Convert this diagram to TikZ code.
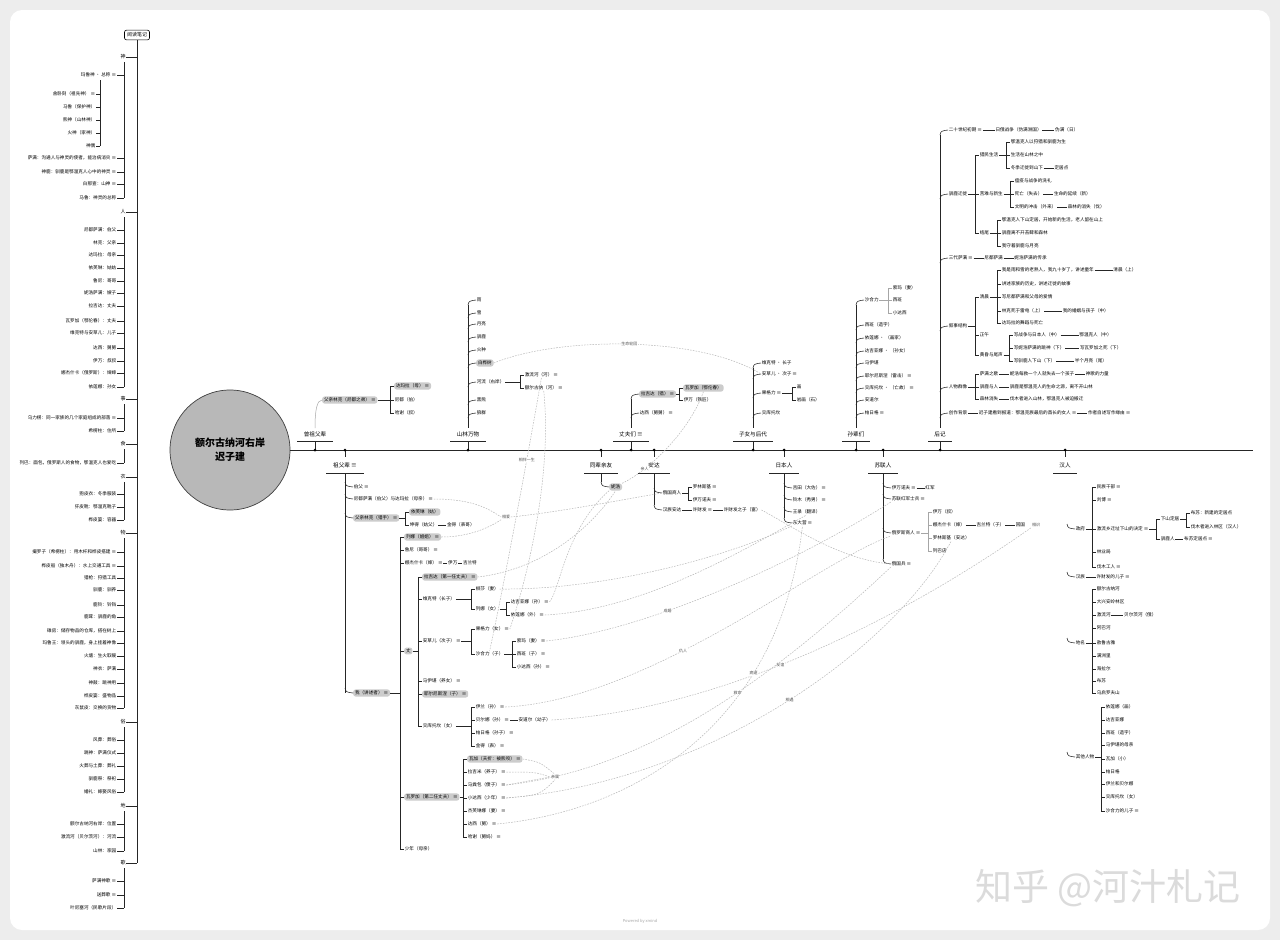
\documentclass[tikz,border=0pt]{standalone}
\usepackage{fontspec}
\setmainfont{Noto Sans CJK SC}
\tikzset{
 ln/.style={draw=black!85, line width=0.55pt},
 lng/.style={draw=black!35, line width=0.5pt},
 itm/.style={font=\fontsize{4.6}{5}\selectfont, inner sep=0.6pt, anchor=west},
 hl/.style={fill=black!20, rounded corners=2.5pt, inner xsep=1.8pt, inner ysep=1.4pt},
 topic/.style={font=\fontsize{5.6}{6}\selectfont, inner sep=0.8pt},
 rel/.style={draw=black!28, line width=0.5pt, dash pattern=on 1.6pt off 1.2pt},
 rlab/.style={font=\fontsize{4}{4}\selectfont, text=black!70, fill=white, inner sep=0.6pt},
 sbox/.style={draw=black, rounded corners=2pt, line width=0.6pt, font=\fontsize{5}{6}\selectfont, inner xsep=2.5pt, inner ysep=2.5pt},
}
\newcommand\xK[4]{\node[itm] (#1) at ({#2+4},#3) {#4}; \draw[ln] (#2,#3) -- (#1.west);}
\newcommand\xKH[4]{\node[itm,hl] (#1) at ({#2+4},#3) {#4}; \draw[ln] (#2,#3) -- (#1.west);}
\newcommand\xU[4]{\node[itm] (#1) at ({#2+8},#3) {#4}; \draw[ln] (#2,{#3+5}) .. controls ({#2+1},{#3+1}) .. (#1.west);}
\newcommand\xUH[4]{\node[itm,hl] (#1) at ({#2+8},#3) {#4}; \draw[ln] (#2,{#3+5}) .. controls ({#2+1},{#3+1}) .. (#1.west);}
\newcommand\xD[4]{\node[itm] (#1) at ({#2+8},#3) {#4}; \draw[ln] (#2,{#3-5}) .. controls ({#2+1},{#3-1}) .. (#1.west);}
\newcommand\xDH[4]{\node[itm,hl] (#1) at ({#2+8},#3) {#4}; \draw[ln] (#2,{#3-5}) .. controls ({#2+1},{#3-1}) .. (#1.west);}
\newcommand\xB[3]{\draw[ln] (#1,#2) -- (#1,#3);}
\newcommand\xP[3]{\draw[ln] (#1.east) -- (#2,#3);}
\newcommand\xT[4]{\node[itm] (#1) at ([xshift=#3pt]#2.east) {#4}; \draw[ln] (#2.east) -- (#1.west);}
\newcommand\xL[2]{\node[itm,anchor=east] (L#1) at (117,#1) {#2}; \draw[ln] (L#1.east) -- (124,#1);}
\newcommand\xLs[2]{\node[itm,anchor=east] (Ls#1) at (96,#1) {#2}; \draw[ln] (Ls#1.east) -- (100,#1);}
\newcommand\xSec[4]{\node[itm,anchor=center,font=\fontsize{5}{5}\selectfont] (#1) at (123,#2) {#3}; \draw[ln] (#1.east) -- (137,#2); \draw[ln] (124,{#2+5}) -- (124,#4);}
\newcommand\xTA[4]{\node[topic] (#1) at (#2,434) {#3}; \draw[ln] ({#2-#4},441) -- ({#2+#4},441); \draw[ln] (#2,441) -- (#2,450); \fill[black] (#2,450) circle (1.5pt);}
\newcommand\xTB[4]{\node[topic] (#1) at (#2,465) {#3}; \draw[ln] ({#2-#4},473) -- ({#2+#4},473); \draw[ln] (#2,450) -- (#2,457); \fill[black] (#2,450) circle (1.5pt);}
\begin{document}
\begin{tikzpicture}[x=1pt,y=-1pt]
\useasboundingbox (0,0) rectangle (1280,940);
\fill[black!7] (0,0) rectangle (1280,940);
\fill[white, rounded corners=12pt] (10,10) rectangle (1270,930);

% ---------------- left column ----------------
\node[sbox] (rb) at (137,35) {阅读笔记};
\draw[ln] (rb.south) -- (137,863);
\xSec{sec1}{57}{神}{198}
\xL{75}{玛鲁神 · 总称 ≡}
\draw[ln] (100,80) -- (100,146);
\xLs{94}{舍卧刻（祖先神） ≡}
\xLs{107}{马鲁（保护神）}
\xLs{120}{熊神（山林神）}
\xLs{133}{火神（家神）}
\xLs{146}{神偶}
\xL{158}{萨满：沟通人与神灵的使者，能治病消灾 ≡}
\xL{172}{神鹿：驯鹿是鄂温克人心中的神灵 ≡}
\xL{184}{白那查：山神 ≡}
\xL{198}{马鲁：神灵的总称}
\xSec{sec2}{212}{人}{387}
\xL{230}{尼都萨满：伯父}
\xL{243}{林克：父亲}
\xL{255}{达玛拉：母亲}
\xL{268}{依芙琳：姑姑}
\xL{281}{鲁尼：哥哥}
\xL{293}{妮浩萨满：嫂子}
\xL{306}{拉吉达：丈夫}
\xL{321}{瓦罗加（鄂伦春）：丈夫}
\xL{333}{维克特与安草儿：儿子}
\xL{348}{达西：舅舅}
\xL{361}{伊万：叔叔}
\xL{373}{娜杰什卡（俄罗斯）：婶婶}
\xL{387}{依莲娜：孙女}
\xSec{sec3}{399}{事}{431}
\xL{418}{乌力楞：同一家族的几个家庭组成的部落 ≡}
\xL{431}{希楞柱：住所}
\xSec{sec4}{444}{食}{463}
\xL{463}{列巴：面包，俄罗斯人的食物，鄂温克人也爱吃}
\xSec{sec5}{477}{衣}{520}
\xL{494}{狍皮衣：冬季服装}
\xL{507}{犴皮靴：鄂温克靴子}
\xL{520}{桦皮篓：容器}
\xSec{sec6}{533}{物}{708}
\xL{552}{撮罗子（希楞柱）：用木杆和桦皮搭建 ≡}
\xL{566}{桦皮船（独木舟）：水上交通工具 ≡}
\xL{578}{猎枪：狩猎工具}
\xL{590}{驯鹿：驯养}
\xL{605}{鹿铃：铃铛}
\xL{617}{鹿茸：驯鹿的角}
\xL{631}{碓房：储存物品的仓库，搭在树上}
\xL{643}{玛鲁王：领头的驯鹿，身上挂着神像}
\xL{656}{火塘：生火取暖}
\xL{669}{神衣：萨满}
\xL{683}{神鼓：跳神用}
\xL{696}{桦皮篓：盛物品}
\xL{708}{灰鼠皮：交换的货物}
\xSec{sec7}{722}{俗}{792}
\xL{740}{风葬：葬俗}
\xL{753}{跳神：萨满仪式}
\xL{766}{火葬与土葬：葬礼}
\xL{779}{驯鹿祭：祭祀}
\xL{792}{婚礼：嫁娶风俗}
\xSec{sec8}{806}{地}{851}
\xL{824}{额尔古纳河右岸：位置}
\xL{837}{激流河（贝尔茨河）：河流}
\xL{851}{山林：家园}
\xSec{sec9}{863}{歌}{908}
\xL{881}{萨满神歌 ≡}
\xL{895}{送葬歌 ≡}
\xL{908}{叶尼塞河（民歌片段）}

% ---------------- centre ----------------
\node[circle, draw=black!75, line width=0.7pt, fill=black!28, minimum size=120pt, inner sep=0pt, align=center, font=\fontsize{10}{14}\selectfont\bfseries] (c) at (230,450) {额尔古纳河右岸\\迟子建};
\draw[ln, line width=0.9pt] (c.east) -- (1253,450);

% 315
\xTA{t1}{315}{曾祖父辈}{18}
\node[itm,hl] (a1) at (322,400) {父亲林克（尼都之弟） ≡};
\draw[lng] (315,428) .. controls (315,410) and (317,400) .. (a1.west);
\xP{a1}{390}{400} \xB{390}{386}{413}
\xKH{a1a}{390}{386}{达玛拉（母） ≡}
\xK{a1b}{390}{400}{尼都（伯）}
\xK{a1c}{390}{413}{哈谢（叔）}

% 345
\xTB{t2}{345}{祖父辈 ≡}{19}
\draw[ln] (345,473) -- (345,693);
\xD{b1}{345}{487}{伯父 ≡}
\xD{b2}{345}{499}{尼都萨满（伯父）与达玛拉（母亲） ≡}
\xDH{b3}{345}{518}{父亲林克（猎手） ≡}
\xP{b3}{405}{518} \xB{405}{512}{525}
\xKH{b3a}{405}{512}{依芙琳（姑）}
\xK{b3b}{405}{525}{坤得（姑父）}
\xT{b3c}{b3b}{8}{金得（表哥）}
\xDH{b4}{345}{693}{我（讲述者） ≡}
\xP{b4}{400}{693} \xB{400}{537}{849}
\xKH{c1}{400}{537}{列娜（姐姐） ≡}
\xK{c2}{400}{550}{鲁尼（哥哥） ≡}
\xK{c3}{400}{563}{娜杰什卡（婶） ≡}
\xT{c3a}{c3}{4}{伊万}
\xT{c3b}{c3a}{4}{吉兰特}
\xKH{c4}{400}{651}{丈}
\xP{c4}{418}{651} \xB{418}{577}{726}
\xKH{d1}{418}{577}{拉吉达（第一任丈夫） ≡}
\xK{d2}{418}{599}{维克特（长子）}
\xP{d2}{471}{599} \xB{471}{589}{609}
\xK{d2a}{471}{589}{柳莎（妻）}
\xK{d2b}{471}{609}{列娜（女）}
\xP{d2b}{506}{609} \xB{506}{602}{615}
\xK{d2c}{506}{602}{达吉亚娜（孙） ≡}
\xK{d2d}{506}{615}{依莲娜（外） ≡}
\xK{d3}{418}{641}{安草儿（次子） ≡}
\xP{d3}{471}{641} \xB{471}{629}{654}
\xK{d3a}{471}{629}{果格力（女） ≡}
\xK{d3b}{471}{654}{沙合力（子）}
\xP{d3b}{512}{654} \xB{512}{641}{667}
\xK{d3c}{512}{641}{索玛（妻） ≡}
\xK{d3d}{512}{654}{西班（子） ≡}
\xK{d3e}{512}{667}{小达西（孙） ≡}
\xK{d4}{418}{681}{马伊堪（养女） ≡}
\xKH{d5}{418}{694}{耶尔尼斯涅（子） ≡}
\xK{d6}{418}{726}{交库托坎（女）}
\xP{d6}{471}{726} \xB{471}{707}{746}
\xK{d6a}{471}{707}{伊兰（孙） ≡}
\xK{d6b}{471}{720}{贝尔娜（孙） ≡}
\xT{d6c}{d6b}{8}{安道尔（幼子）}
\xK{d6d}{471}{733}{帕日格（孙子） ≡}
\xK{d6e}{471}{746}{金得（表） ≡}
\xKH{c5}{400}{797}{瓦罗加（第二任丈夫） ≡}
\xP{c5}{463}{797} \xB{463}{759}{837}
\xKH{e1}{463}{759}{瓦加（夭折：被熊咬） ≡}
\xK{e2}{463}{772}{拉吉米（养子） ≡}
\xK{e3}{463}{785}{马粪包（傻子） ≡}
\xK{e4}{463}{798}{小达西（少年） ≡}
\xK{e5}{463}{811}{杰芙琳娜（妻） ≡}
\xK{e6}{463}{824}{达西（舅） ≡}
\xK{e7}{463}{837}{哈谢（舅妈） ≡}
\xK{c6}{400}{849}{少年（母亲）}

% 468
\xTA{t3}{468}{山林万物}{18}
\draw[ln] (468,305) -- (468,428);
\xU{f1}{468}{300}{雨}
\xU{f2}{468}{313}{雪}
\xU{f3}{468}{324}{月亮}
\xU{f4}{468}{337}{驯鹿}
\xU{f5}{468}{350}{火种}
\xUH{f6}{468}{363}{白桦树}
\xU{f7}{468}{382}{河流（右岸）}
\xP{f7}{520}{382} \xB{520}{375}{388}
\xK{f7a}{520}{375}{激流河（河） ≡}
\xK{f7b}{520}{388}{额尔古纳（河） ≡}
\xU{f8}{468}{400}{黑熊}
\xU{f9}{468}{413}{狼群}

% 601
\xTB{t4}{601}{同辈亲友}{17}
\draw[ln] (601,473) -- (601,482);
\xDH{g1}{601}{487}{妮浩}

% 631
\xTA{t5}{631}{丈夫们 ≡}{18}
\draw[ln] (631,399) -- (631,428);
\xUH{h1}{631}{394}{拉吉达（猎） ≡}
\xP{h1}{679}{394} \xB{679}{388}{400}
\xKH{h1a}{679}{388}{瓦罗加（鄂伦春）}
\xK{h1b}{679}{400}{伊万（铁匠）}
\xU{h2}{631}{413}{达西（舅舅） ≡}

% 654
\xTB{t6}{654}{安达}{16}
\draw[ln] (654,473) -- (654,505);
\xD{i1}{654}{493}{俄国商人}
\xP{i1}{688}{493} \xB{688}{487}{500}
\xK{i1a}{688}{487}{罗林斯基 ≡}
\xK{i1b}{688}{500}{伊万诺夫 ≡}
\xD{i2}{654}{510}{汉族安达}
\xT{i2a}{i2}{10}{许财发 ≡}
\xT{i2b}{i2a}{10}{许财发之子（富）}

% 753
\xTA{t7}{753}{子女与后代}{20}
\draw[ln] (753,368) -- (753,428);
\xU{j1}{753}{363}{维克特 · 长子}
\xU{j2}{753}{374}{安草儿 · 次子 ≡}
\xU{j3}{753}{393}{果格力 ≡}
\xP{j3}{792}{393} \xB{792}{387}{400}
\xK{j3a}{792}{387}{画}
\xK{j3b}{792}{400}{岩画（石）}
\xU{j4}{753}{413}{交库托坎}

% 784
\xTB{t8}{784}{日本人}{15}
\draw[ln] (784,473) -- (784,518);
\xD{k1}{784}{488}{吉田（大佐） ≡}
\xD{k2}{784}{500}{铃木（秀男） ≡}
\xD{k3}{784}{512}{王录（翻译）}
\xD{k4}{784}{523}{东大营 ≡}

% 856
\xTA{t9}{856}{孙辈们}{14}
\draw[ln] (856,305) -- (856,428);
\xU{m1}{856}{300}{沙合力}
\draw[lng] (m1.east) -- (888,300);
\draw[lng] (888,288) -- (888,313);
\node[itm] (m1a) at (892,288) {索玛（妻）}; \draw[lng] (888,288) -- (m1a.west);
\node[itm] (m1b) at (892,300) {西班}; \draw[lng] (888,300) -- (m1b.west);
\node[itm] (m1c) at (892,313) {小达西}; \draw[lng] (888,313) -- (m1c.west);
\xU{m2}{856}{325}{西班（造字）}
\xU{m3}{856}{338}{依莲娜 · （画家）}
\xU{m4}{856}{351}{达吉亚娜 · （孙女）}
\xU{m5}{856}{363}{马伊堪}
\xU{m6}{856}{376}{耶尔尼斯涅（雷击） ≡}
\xU{m7}{856}{388}{交库托坎 · （亡故） ≡}
\xU{m8}{856}{400}{安道尔}
\xU{m9}{856}{413}{帕日格 ≡}

% 883
\xTB{t10}{883}{苏联人}{15}
\draw[ln] (883,473) -- (883,559);
\xD{n1}{883}{488}{伊万诺夫 ≡}
\xT{n1a}{n1}{8}{红军}
\xD{n2}{883}{499}{苏联红军士兵 ≡}
\xD{n3}{883}{533}{俄罗斯商人 ≡}
\draw[lng] (n3.east) -- (928,533);
\draw[lng] (928,512) -- (928,551);
\node[itm] (n3a) at (932,512) {伊万（叔）}; \draw[lng] (928,512) -- (n3a.west);
\node[itm] (n3b) at (932,525) {娜杰什卡（婶）}; \draw[lng] (928,525) -- (n3b.west);
\xT{n3c}{n3b}{10}{吉兰特（子）}
\xT{n3d}{n3c}{10}{回国}
\node[itm] (n3e) at (932,538) {罗林斯基（安达）}; \draw[lng] (928,538) -- (n3e.west);
\node[itm] (n3f) at (932,551) {列巴店}; \draw[lng] (928,551) -- (n3f.west);
\xD{n4}{883}{564}{俄国兵 ≡}

% 940
\xTA{t11}{940}{后记}{12}
\draw[ln] (940,135) -- (940,428);
\xU{p1}{940}{130}{二十世纪初期 ≡}
\xT{p1a}{p1}{12}{日俄战争（伪满洲国）}
\xT{p1b}{p1a}{12}{伪满（日）}
\xU{p2}{940}{194}{驯鹿迁徙}
\xP{p2}{975}{194} \xB{975}{155}{233}
\xK{q1}{975}{155}{猎民生活}
\xP{q1}{1006}{155} \xB{1006}{142}{168}
\xK{q1a}{1006}{142}{鄂温克人以狩猎和驯鹿为生}
\xK{q1b}{1006}{155}{生活在山林之中}
\xK{q1c}{1006}{168}{冬季迁徙到山下}
\xT{q1d}{q1c}{10}{定居点}
\xK{q2}{975}{194}{苦难与新生}
\xP{q2}{1010}{194} \xB{1010}{181}{207}
\xK{q2a}{1010}{181}{瘟疫与战争的洗礼}
\xK{q2b}{1010}{194}{死亡（失去）}
\xT{q2c}{q2b}{10}{生命的延续（新）}
\xK{q2d}{1010}{207}{文明的冲击（外来）}
\xT{q2e}{q2d}{10}{森林的消失（伐）}
\xK{q3}{975}{233}{结尾}
\xP{q3}{997}{233} \xB{997}{220}{246}
\xK{q3a}{997}{220}{鄂温克人下山定居，开始新的生活，老人留在山上}
\xK{q3b}{997}{233}{驯鹿离不开苔藓和森林}
\xK{q3c}{997}{246}{我守着驯鹿与月亮}
\xU{p3}{940}{258}{三代萨满 ≡}
\xT{p3a}{p3}{10}{尼都萨满}
\xT{p3b}{p3a}{10}{妮浩萨满的传承}
\xU{p4}{940}{326}{叙事结构}
\xP{p4}{975}{326} \xB{975}{297}{355}
\xK{r1}{975}{297}{清晨}
\xP{r1}{997}{297} \xB{997}{270}{323}
\xK{r1a}{997}{270}{我是雨和雪的老熟人，我九十岁了，讲述童年}
\xT{r1b}{r1a}{18}{清晨（上）}
\xK{r1c}{997}{284}{讲述家族的历史，讲述迁徙的故事}
\xK{r1d}{997}{297}{写尼都萨满和父母的爱情}
\xK{r1e}{997}{311}{林克死于雷电（上）}
\xT{r1f}{r1e}{18}{我的婚姻与孩子（中）}
\xK{r1g}{997}{323}{达玛拉的舞蹈与死亡}
\xK{r2}{975}{335}{正午}
\xK{r3}{975}{355}{黄昏与尾声}
\xP{r3}{1009}{355} \xB{1009}{335}{361}
\xK{r3a}{1009}{335}{写战争与日本人（中）}
\xT{r3b}{r3a}{18}{鄂温克人（中）}
\xK{r3c}{1009}{348}{写妮浩萨满的跳神（下）}
\xT{r3d}{r3c}{14}{写瓦罗加之死（下）}
\xK{r3e}{1009}{361}{写驯鹿人下山（下）}
\xT{r3f}{r3e}{18}{半个月亮（尾）}
\xU{p5}{940}{387}{人物群像}
\xP{p5}{975}{387} \xB{975}{374}{399}
\xK{w1}{975}{374}{萨满之歌}
\xT{w1a}{w1}{10}{妮浩每救一个人就失去一个孩子}
\xT{w1b}{w1a}{10}{神歌的力量}
\xK{w2}{975}{387}{驯鹿与人}
\xT{w2a}{w2}{10}{驯鹿是鄂温克人的生命之源，离不开山林}
\xK{w3}{975}{399}{森林消失}
\xT{w3a}{w3}{10}{伐木者进入山林，鄂温克人被迫搬迁}
\xU{p6}{940}{413}{创作背景}
\xT{p6a}{p6}{10}{迟子建看到报道：鄂温克族最后的酋长的女人 ≡}
\xT{p6b}{p6a}{10}{作者自述写作缘由 ≡}

% 1065
\xTB{t12}{1065}{汉人}{12}
\xD{u1}{1067}{529}{政府}
\xP{u1}{1092}{529} \xB{1092}{487}{567}
\xK{u1a}{1092}{487}{民族干部 ≡}
\xK{u1b}{1092}{500}{刘博 ≡}
\xK{u1c}{1092}{529}{激流乡迁址下山的决定 ≡}
\xP{u1c}{1156}{529} \xB{1156}{519}{539}
\xK{u1d}{1156}{519}{下山定居}
\xP{u1d}{1186}{519} \xB{1186}{513}{527}
\xK{u1e}{1186}{513}{布苏：新建的定居点}
\xK{u1f}{1186}{527}{伐木者进入林区（汉人）}
\xK{u1g}{1156}{539}{驯鹿人}
\xT{u1h}{u1g}{8}{布苏定居点 ≡}
\xK{u1i}{1092}{552}{林业局}
\xK{u1j}{1092}{567}{伐木工人 ≡}
\xD{u2}{1067}{577}{汉族}
\xT{u2a}{u2}{10}{许财发的儿子 ≡}
\xD{u3}{1067}{643}{地名}
\xP{u3}{1092}{643} \xB{1092}{589}{693}
\xK{v1}{1092}{589}{额尔古纳河}
\xK{v2}{1092}{602}{大兴安岭林区}
\xK{v3}{1092}{615}{激流河}
\xT{v3a}{v3}{12}{贝尔茨河（俄）}
\xK{v4}{1092}{628}{阿巴河}
\xK{v5}{1092}{643}{敖鲁古雅}
\xK{v6}{1092}{656}{满洲里}
\xK{v7}{1092}{669}{海拉尔}
\xK{v8}{1092}{681}{布苏}
\xK{v9}{1092}{693}{乌启罗夫山}
\xD{u4}{1067}{757}{其他人物}
\xP{u4}{1101}{757} \xB{1101}{707}{811}
\xK{x1}{1101}{707}{依莲娜（画）}
\xK{x2}{1101}{720}{达吉亚娜}
\xK{x3}{1101}{733}{西班（造字）}
\xK{x4}{1101}{745}{马伊堪的母亲}
\xK{x5}{1101}{759}{瓦加（小）}
\xK{x6}{1101}{772}{帕日格}
\xK{x7}{1101}{784}{伊兰和贝尔娜}
\xK{x8}{1101}{797}{交库托坎（女）}
\xK{x9}{1101}{811}{沙合力的儿子 ≡}

% ---------------- relation curves ----------------
\node[rlab] (rl1) at (506,517) {相爱};
\node[rlab] (rl2) at (555,777) {亲属};
\node[rlab] (rl3) at (1036,525) {相识};
\draw[rel] (f6.east) .. controls (560,336) and (700,336) .. node[rlab,pos=.5] {生命轮回} (j2.west);
\draw[rel] (f7a.south) .. controls (527,460) and (505,580) .. node[rlab,pos=.3] {相伴一生} (d3b.north);
\draw[rel] (f7b.south) .. controls (552,470) and (530,570) .. (d3a.east);
\draw[rel] (h1a.south) .. controls (690,430) and (650,470) .. node[rlab,pos=.75] {亲人} (g1.north east);
\draw[rel] (g1.south west) .. controls (565,530) and (560,590) .. (d2c.east);
\draw[rel] (b2.east) .. controls (475,499) and (490,510) .. (rl1.west);
\draw[rel] (c1.east) .. controls (470,537) and (490,527) .. (rl1.south west);
\draw[rel] (rl1.east) .. controls (560,512) and (620,500) .. (i1.west);
\draw[rel] (d1.east) .. controls (540,570) and (590,530) .. (g1.south);
\draw[rel] (d2a.east) .. controls (600,590) and (720,560) .. (k4.south west);
\draw[rel] (d3c.east) .. controls (650,630) and (800,560) .. node[rlab,pos=.35] {成婚} (n2.south west);
\draw[rel] (d2d.east) .. controls (650,610) and (760,540) .. (k3.south);
\draw[rel] (d6a.east) .. controls (650,700) and (820,560) .. node[rlab,pos=.4] {仇人} (n3.south west);
\draw[rel] (d6c.east) .. controls (720,710) and (900,620) .. node[rlab,pos=.45] {友谊} (rl3.south west);
\draw[rel] (e3.east) .. controls (640,770) and (760,690) .. node[rlab,pos=.6] {救命} (n4.south west);
\draw[rel] (e4.east) .. controls (720,780) and (900,640) .. node[rlab,pos=.5] {相遇} (n3e.south);
\draw[rel] (e6.east) .. controls (640,810) and (780,720) .. node[rlab,pos=.7] {病逝} (k4.south);
\draw[rel] (e1.east) .. controls (540,762) .. (rl2.north);
\draw[rel] (e2.east) .. controls (535,772) .. (rl2.west);
\draw[rel] (e3.east) -- (rl2.west);
\draw[rel] (e4.east) .. controls (540,795) .. (rl2.south);
\draw[rel] (i2b.east) .. controls (790,525) and (840,560) .. (n4.west);

% ---------------- watermark ----------------
\node[font=\fontsize{37}{37}\selectfont, text=black!14, anchor=west] (wm) at (972,888) {知乎 @河汁札记};
\node[font=\fontsize{4}{4}\selectfont, text=black!35] (pw) at (640,921) {Powered by xmind};
\end{tikzpicture}
\end{document}
